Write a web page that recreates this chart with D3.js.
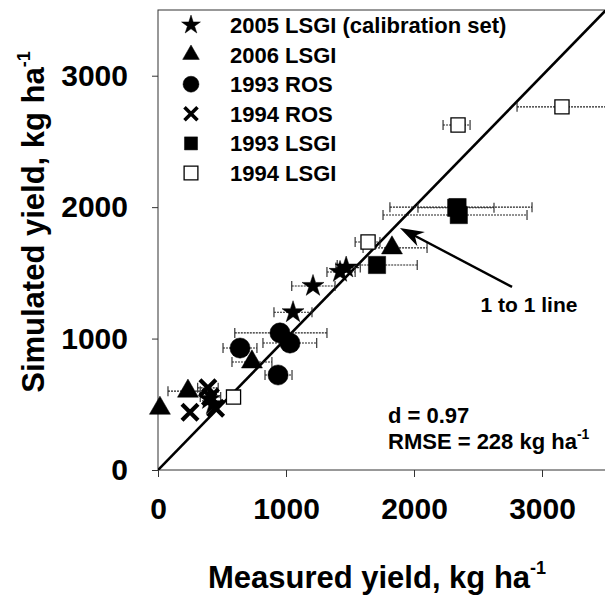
<!DOCTYPE html>
<html><head><meta charset="utf-8">
<script src="https://cdn.jsdelivr.net/npm/d3@7"></script>
<style>body{margin:0;background:#fff}svg{display:block}text{font-family:"Liberation Sans",Arial,sans-serif;font-weight:bold;fill:#000}</style>
</head><body>
<script>
// ---- data ----
const seriesNames = ["2005 LSGI (calibration set)","2006 LSGI","1993 ROS","1994 ROS","1993 LSGI","1994 LSGI"];
const xTicks = [0,1000,2000,3000];
const yTicks = [0,1000,2000,3000];
// [measured, simulated, xLow, xHigh]
const lsgi2005 = [[1055,1200,906,1203],[1211,1400,1045,1383],[1422,1507,1320,1540],[1470,1540,1390,1580],[400,540,null,null],[430,500,null,null]];
const lsgi2006 = [[15,470,null,null],[234,600,78,330],[734,822,578,890],[1828,1690,1602,2102]];
const ros1993 = [[641,928,508,773],[938,723,836,1047],[953,1043,600,1320],[1031,966,820,1240]];
const ros1994 = [[250,440,null,null],[390,625,310,470],[410,555,330,490],[450,470,null,null]];
const lsgi1993 = [[1711,1560,1400,2025],[2330,1995,2031,2625],[2340,2000,1812,2922],[2350,1940,1758,2883]];
const lsgi1994 = [[590,555,null,null],[1641,1735,1540,1734],[2344,2625,2227,2438],[3156,2763,2805,3700]];
const stats = ["d = 0.97","RMSE = 228 kg ha"];
const arrowFrom = [2766,1393], arrowTo = [1890,1842];

const W=605,H=596;
const svg=d3.select("body").append("svg").attr("width",W).attr("height",H);
const x=d3.scaleLinear().domain([0,3500]).range([158,606]);
const y=d3.scaleLinear().domain([0,3500]).range([470,10]);

svg.append("defs").append("clipPath").attr("id","clip").append("rect")
  .attr("x",158).attr("y",10).attr("width",448).attr("height",460);

// frame
svg.append("rect").attr("x",158).attr("y",10).attr("width",460).attr("height",460)
  .attr("fill","none").attr("stroke","#333").attr("stroke-width",1);

// axes
const xa=svg.append("g").attr("transform","translate(0,470)")
  .call(d3.axisBottom(x).tickValues(xTicks).tickSize(7).tickPadding(30).tickFormat(d3.format("d")));
const ya=svg.append("g").attr("transform","translate(158,0)")
  .call(d3.axisLeft(y).tickValues(yTicks).tickSize(6).tickPadding(24).tickFormat(d3.format("d")));
[xa,ya].forEach(a=>{a.select(".domain").remove();a.selectAll("line").attr("stroke","#333");
  a.selectAll("text").style("font-size","30px").style("font-family","Liberation Sans, Arial").style("font-weight","bold").attr("fill","#000");});
xa.selectAll("text").attr("dy","0.4em");

const plot=svg.append("g").attr("clip-path","url(#clip)");
// 1:1 line
plot.append("line").attr("x1",x(0)).attr("y1",y(0)).attr("x2",x(3500)).attr("y2",y(3500))
  .attr("stroke","#000").attr("stroke-width",2.6);

const all=[lsgi2005,lsgi2006,ros1993,ros1994,lsgi1993,lsgi1994];
// error bars
const eb=plot.append("g").attr("stroke","#222").attr("stroke-width",1.1).attr("fill","none");
all.forEach(s=>s.forEach(d=>{
  if(d[2]==null)return;
  const yy=y(d[1]);
  eb.append("line").attr("x1",x(d[2])).attr("x2",x(d[3])).attr("y1",yy).attr("y2",yy).attr("stroke-dasharray","2,1");
  [d[2],d[3]].forEach(v=>eb.append("line").attr("x1",x(v)).attr("x2",x(v)).attr("y1",yy-5).attr("y2",yy+5));
}));

const crossPath=(r)=>`M${-r},${-r}L${r},${r}M${r},${-r}L${-r},${r}`;
const styles=[
  {t:d3.symbolStar,s:150,ls:110},
  {t:d3.symbolTriangle,s:190,ls:120},
  {t:d3.symbolCircle,s:320,ls:200},
  {t:"x",r:8,lr:6.5},
  {t:d3.symbolSquare,s:300,ls:170},
  {t:d3.symbolSquare,s:200,ls:190,open:true}
];
function drawSym(g,st,cx,cy,legend){
  if(st.t==="x"){
    g.append("path").attr("d",crossPath(legend?st.lr:st.r)).attr("transform",`translate(${cx},${cy})`)
      .attr("stroke","#000").attr("stroke-width",legend?3.6:4.2).attr("fill","none");
  } else {
    g.append("path").attr("d",d3.symbol().type(st.t).size(legend?st.ls:st.s)())
      .attr("transform",`translate(${cx},${cy})`)
      .attr("fill",st.open?"#fff":"#000").attr("stroke","#000").attr("stroke-width",st.open?1.3:0.5);
  }
}
const mk=svg.append("g");
all.forEach((s,i)=>s.forEach(d=>drawSym(mk,styles[i],x(d[0]),y(d[1]),false)));

// legend
const lg=svg.append("g");
seriesNames.forEach((n,i)=>{
  const cy=25+i*29.6;
  drawSym(lg,styles[i],191,cy,true);
  lg.append("text").attr("x",230).attr("y",cy+8).style("font-size","22px").text(n);
});

// stats
svg.append("text").attr("x",388).attr("y",423).style("font-size","22px").text(stats[0]);
const rm=svg.append("text").attr("x",388).attr("y",449).style("font-size","22px").text(stats[1]);
rm.append("tspan").attr("dy",-10).style("font-size","14px").text("-1");

// arrow
const ax1=x(arrowFrom[0]),ay1=y(arrowFrom[1]),ax2=x(arrowTo[0]),ay2=y(arrowTo[1]);
const ang=Math.atan2(ay2-ay1,ax2-ax1);
svg.append("line").attr("x1",ax1).attr("y1",ay1).attr("x2",ax2-Math.cos(ang)*12).attr("y2",ay2-Math.sin(ang)*12)
  .attr("stroke","#000").attr("stroke-width",2.4);
const L=24,Wd=8;
const bx=ax2-Math.cos(ang)*L, by=ay2-Math.sin(ang)*L;
const nx=-Math.sin(ang),ny=Math.cos(ang);
const nbx=ax2-Math.cos(ang)*L*0.7, nby=ay2-Math.sin(ang)*L*0.7;
svg.append("path").attr("d",`M${ax2},${ay2}L${bx+nx*Wd},${by+ny*Wd}L${nbx},${nby}L${bx-nx*Wd},${by-ny*Wd}Z`).attr("fill","#000");
svg.append("text").attr("x",529).attr("y",312).attr("text-anchor","middle").style("font-size","21px").text("1 to 1 line");

// axis titles
const xt=svg.append("text").attr("x",377).attr("y",588).attr("text-anchor","middle").style("font-size","31px").text("Measured yield, kg ha");
xt.append("tspan").attr("dy",-14).style("font-size","18px").text("-1");
const yt=svg.append("text").attr("transform","translate(44,222) rotate(-90)").attr("text-anchor","middle").style("font-size","31px").text("Simulated yield, kg ha");
yt.append("tspan").attr("dy",-14).style("font-size","18px").text("-1");
</script>
</body></html>
